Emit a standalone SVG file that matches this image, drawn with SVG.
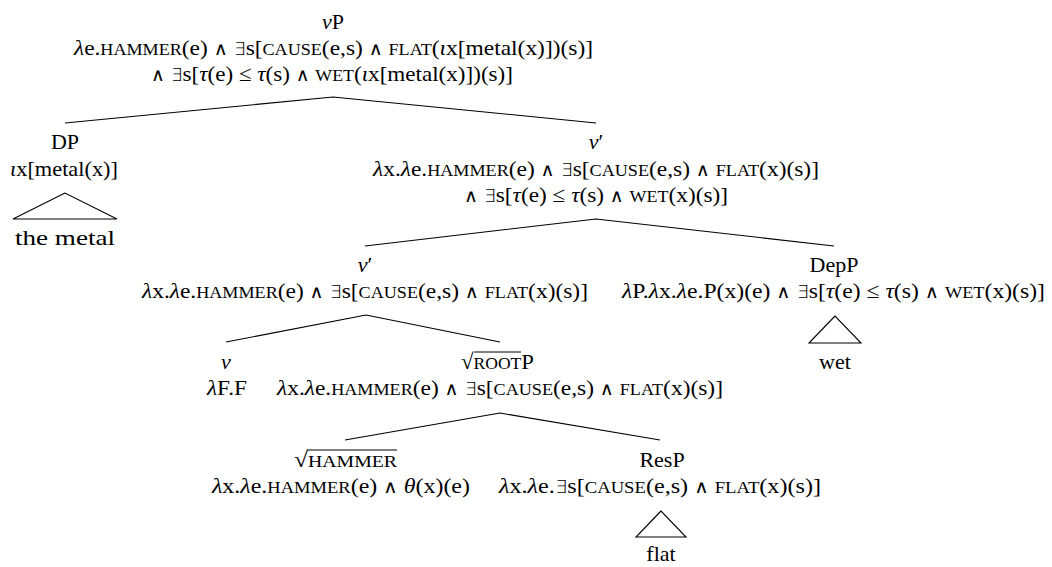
<svg xmlns="http://www.w3.org/2000/svg" width="1052" height="567" viewBox="0 0 1052 567">
<style>
  .t { font-family: "Liberation Serif", "DejaVu Serif", serif; font-size: 22px; fill: #000; text-anchor: middle; }
  .s { text-anchor: start; }
  .sc { font-size: 17px; }
  .i { font-style: italic; }
  .op { font-family: "DejaVu Sans", "DejaVu Serif", sans-serif; font-size: 18px; font-weight: 200; }
  .e { stroke: #000; stroke-width: 1.1; fill: none; }
  .bar { stroke: #000; stroke-width: 1; }
</style>
<rect width="1052" height="567" fill="#fff"/>

<!-- tree branches and roofs -->
<g id="connectors" class="e">
  <path d="M333 97 L65 123 M333 97 L596 123"/>
  <path d="M596 219 L365 246 M596 219 L834 246"/>
  <path d="M366 315 L226 342 M366 315 L500 342"/>
  <path d="M500 413 L345 440 M500 413 L660 440"/>
  <polygon points="65,193 13,219 117,219"/>
  <polygon points="835,316 809,343 861,343"/>
  <polygon points="661,511 636,537 686,537"/>
</g>

<g id="vP">
  <text class="t" x="333" y="29"><tspan class="i">v</tspan>P</text>
  <text class="t" x="333.5" y="55" textLength="519" lengthAdjust="spacingAndGlyphs"><tspan class="i">λ</tspan>e.<tspan class="sc">HAMMER</tspan>(e) <tspan class="op">∧</tspan> <tspan class="op">∃</tspan>s[<tspan class="sc">CAUSE</tspan>(e,s) <tspan class="op">∧</tspan> <tspan class="sc">FLAT</tspan>(<tspan class="i">ι</tspan>x[metal(x)])(s)]</text>
  <text class="t" x="332" y="81" textLength="362" lengthAdjust="spacingAndGlyphs"><tspan class="op">∧</tspan> <tspan class="op">∃</tspan>s[<tspan class="i">τ</tspan>(e) ≤ <tspan class="i">τ</tspan>(s) <tspan class="op">∧</tspan> <tspan class="sc">WET</tspan>(<tspan class="i">ι</tspan>x[metal(x)])(s)]</text>
</g>

<g id="DP">
  <text class="t" x="65" y="149">DP</text>
  <text class="t" x="64" y="176" textLength="108" lengthAdjust="spacingAndGlyphs"><tspan class="i">ι</tspan>x[metal(x)]</text>
</g>

<g id="the-metal">
  <text class="t" x="65" y="245" textLength="100" lengthAdjust="spacingAndGlyphs">the metal</text>
</g>

<g id="v-bar-top">
  <text class="t" x="596" y="149"><tspan class="i">v</tspan>′</text>
  <text class="t" x="596" y="176" textLength="446" lengthAdjust="spacingAndGlyphs"><tspan class="i">λ</tspan>x.<tspan class="i">λ</tspan>e.<tspan class="sc">HAMMER</tspan>(e) <tspan class="op">∧</tspan> <tspan class="op">∃</tspan>s[<tspan class="sc">CAUSE</tspan>(e,s) <tspan class="op">∧</tspan> <tspan class="sc">FLAT</tspan>(x)(s)]</text>
  <text class="t" x="596" y="202" textLength="264" lengthAdjust="spacingAndGlyphs"><tspan class="op">∧</tspan> <tspan class="op">∃</tspan>s[<tspan class="i">τ</tspan>(e) ≤ <tspan class="i">τ</tspan>(s) <tspan class="op">∧</tspan> <tspan class="sc">WET</tspan>(x)(s)]</text>
</g>

<g id="v-bar-mid">
  <text class="t" x="365" y="272"><tspan class="i">v</tspan>′</text>
  <text class="t" x="365" y="298" textLength="446" lengthAdjust="spacingAndGlyphs"><tspan class="i">λ</tspan>x.<tspan class="i">λ</tspan>e.<tspan class="sc">HAMMER</tspan>(e) <tspan class="op">∧</tspan> <tspan class="op">∃</tspan>s[<tspan class="sc">CAUSE</tspan>(e,s) <tspan class="op">∧</tspan> <tspan class="sc">FLAT</tspan>(x)(s)]</text>
</g>

<g id="DepP">
  <text class="t" x="834" y="272">DepP</text>
  <text class="t" x="833.5" y="298" textLength="423" lengthAdjust="spacingAndGlyphs"><tspan class="i">λ</tspan>P.<tspan class="i">λ</tspan>x.<tspan class="i">λ</tspan>e.P(x)(e) <tspan class="op">∧</tspan> <tspan class="op">∃</tspan>s[<tspan class="i">τ</tspan>(e) ≤ <tspan class="i">τ</tspan>(s) <tspan class="op">∧</tspan> <tspan class="sc">WET</tspan>(x)(s)]</text>
</g>

<g id="wet">
  <text class="t" x="835" y="369">wet</text>
</g>

<g id="v">
  <text class="t" x="226" y="369"><tspan class="i">v</tspan></text>
  <text class="t" x="227" y="395" textLength="40" lengthAdjust="spacingAndGlyphs"><tspan class="i">λ</tspan>F.F</text>
</g>

<g id="rootP">
  <text class="t s" x="461" y="369" textLength="73" lengthAdjust="spacingAndGlyphs">√<tspan class="sc">ROOT</tspan>P</text>
  <line class="bar" x1="474" y1="352" x2="521" y2="352"/>
  <text class="t" x="500" y="395" textLength="446" lengthAdjust="spacingAndGlyphs"><tspan class="i">λ</tspan>x.<tspan class="i">λ</tspan>e.<tspan class="sc">HAMMER</tspan>(e) <tspan class="op">∧</tspan> <tspan class="op">∃</tspan>s[<tspan class="sc">CAUSE</tspan>(e,s) <tspan class="op">∧</tspan> <tspan class="sc">FLAT</tspan>(x)(s)]</text>
</g>

<g id="root-hammer">
  <text class="t s" x="294" y="467" textLength="103" lengthAdjust="spacingAndGlyphs">√<tspan class="sc">HAMMER</tspan></text>
  <line class="bar" x1="307" y1="450" x2="397" y2="450"/>
  <text class="t" x="341" y="493" textLength="258" lengthAdjust="spacingAndGlyphs"><tspan class="i">λ</tspan>x.<tspan class="i">λ</tspan>e.<tspan class="sc">HAMMER</tspan>(e) <tspan class="op">∧</tspan> <tspan class="i">θ</tspan>(x)(e)</text>
</g>

<g id="ResP">
  <text class="t" x="662" y="467">ResP</text>
  <text class="t" x="660" y="493" textLength="322" lengthAdjust="spacingAndGlyphs"><tspan class="i">λ</tspan>x.<tspan class="i">λ</tspan>e.<tspan class="op">∃</tspan>s[<tspan class="sc">CAUSE</tspan>(e,s) <tspan class="op">∧</tspan> <tspan class="sc">FLAT</tspan>(x)(s)]</text>
</g>

<g id="flat">
  <text class="t" x="661" y="561">flat</text>
</g>
</svg>
